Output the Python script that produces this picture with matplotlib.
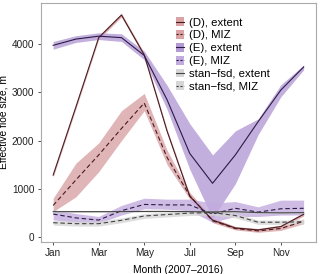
import matplotlib

matplotlib.use("Agg")
import matplotlib.pyplot as plt
from matplotlib.lines import Line2D
from matplotlib.patches import Patch

months = list(range(1, 13))
tick_pos = [1, 3, 5, 7, 9, 11]
tick_lab = ["Jan", "Mar", "May", "Jul", "Sep", "Nov"]

# (D) run
d_ext = [1280, 2700, 4140, 4610, 3780, 2200, 840, 345, 180, 140, 210, 465]
d_ext_lo = [1240, 2660, 4100, 4570, 3740, 2160, 800, 310, 150, 110, 180, 430]
d_ext_hi = [1320, 2740, 4180, 4650, 3820, 2240, 880, 380, 210, 170, 240, 500]
d_miz = [650, 1180, 1700, 2250, 2780, 1650, 850, 330, 170, 120, 170, 320]
d_miz_lo = [520, 830, 1350, 2000, 2620, 1500, 780, 290, 140, 90, 130, 270]
d_miz_hi = [800, 1530, 1950, 2620, 2980, 1800, 920, 390, 210, 160, 210, 370]

# (E) run
e_ext = [3980, 4110, 4170, 4140, 3770, 2850, 1730, 1110, 1700, 2390, 3050, 3530]
e_ext_lo = [3900, 4040, 4100, 4060, 3680, 2650, 1400, 380, 1100, 2120, 2910, 3470]
e_ext_hi = [4060, 4180, 4240, 4220, 3860, 3150, 2350, 1700, 2200, 2450, 3160, 3570]
e_miz = [470, 390, 345, 540, 670, 660, 660, 470, 590, 510, 580, 590]
e_miz_lo = [350, 300, 280, 450, 580, 570, 540, 300, 420, 420, 450, 450]
e_miz_hi = [560, 480, 420, 650, 800, 780, 780, 700, 730, 620, 760, 760]

# stan-fsd
s_ext = [520, 520, 520, 520, 525, 525, 520, 515, 520, 500, 495, 500]
s_ext_lo = [505, 505, 505, 505, 510, 510, 505, 500, 505, 485, 480, 485]
s_ext_hi = [535, 535, 535, 535, 540, 540, 535, 530, 535, 515, 510, 515]
s_miz = [290, 270, 270, 340, 430, 460, 490, 500, 440, 300, 300, 310]
s_miz_lo = [240, 220, 220, 290, 380, 410, 440, 450, 390, 255, 255, 265]
s_miz_hi = [340, 320, 320, 390, 480, 510, 540, 550, 490, 345, 345, 355]

D_FILL, D_LINE = "#d9a3a5", "#4a1a1e"
E_FILL, E_FILL2, E_LINE = "#b59bd6", "#c2abdf", "#2b1a45"
S_FILL, S_LINE = "#d6d6d6", "#444444"

plt.rcParams["font.family"] = ["Liberation Sans", "DejaVu Sans"]

fig = plt.figure(figsize=(3.2, 2.74), dpi=100)
ax = fig.add_axes([0.127, 0.117, 0.861, 0.872])

series = [
    (d_ext, d_ext_lo, d_ext_hi, D_FILL, D_LINE, "-", "(D), extent"),
    (d_miz, d_miz_lo, d_miz_hi, D_FILL, D_LINE, "--", "(D), MIZ"),
    (e_ext, e_ext_lo, e_ext_hi, E_FILL, E_LINE, "-", "(E), extent"),
    (e_miz, e_miz_lo, e_miz_hi, E_FILL2, E_LINE, "--", "(E), MIZ"),
    (s_ext, s_ext_lo, s_ext_hi, S_FILL, S_LINE, "-", "stan\u2212fsd, extent"),
    (s_miz, s_miz_lo, s_miz_hi, S_FILL, S_LINE, "--", "stan\u2212fsd, MIZ"),
]

handles, labels = [], []
for ys, lo, hi, fc, lc, ls, lab in series:
    ax.fill_between(months, lo, hi, color=fc, alpha=0.8, lw=0, zorder=1)
for ys, lo, hi, fc, lc, ls, lab in series:
    ax.plot(months, ys, color=lc, ls=ls, lw=0.8, zorder=3,
            dashes=(4, 2.5) if ls == "--" else (None, None))
    handles.append((Patch(facecolor=fc, edgecolor="none"),
                    Line2D([], [], color=lc, ls=ls, lw=0.8,
                           dashes=(2, 1.5) if ls == "--" else (None, None))))
    labels.append(lab)

ax.set_xlim(0.45, 12.55)
ax.set_ylim(-110, 4860)
ax.set_xticks(tick_pos)
ax.set_xticklabels(tick_lab)
ax.set_yticks([0, 1000, 2000, 3000, 4000])
ax.tick_params(labelsize=7.2, colors="#333333", length=2.5, width=0.6,
               labelcolor="#222222", pad=2)
for s in ax.spines.values():
    s.set_color("#aaaaaa")
    s.set_linewidth(0.8)
ax.set_xlabel("Month (2007\u20132016)", fontsize=7.4, labelpad=5)
ax.set_ylabel("Effective floe size, m", fontsize=7.4)
ax.yaxis.set_label_coords(-0.115, 0.5)

ax.legend(handles, labels, loc="upper left", bbox_to_anchor=(0.49, 0.94),
          fontsize=8.2, frameon=False, handlelength=0.7, handleheight=0.8,
          handletextpad=0.5, labelspacing=0.22, borderaxespad=0, borderpad=0)

fig.savefig("out.png", dpi=100)
